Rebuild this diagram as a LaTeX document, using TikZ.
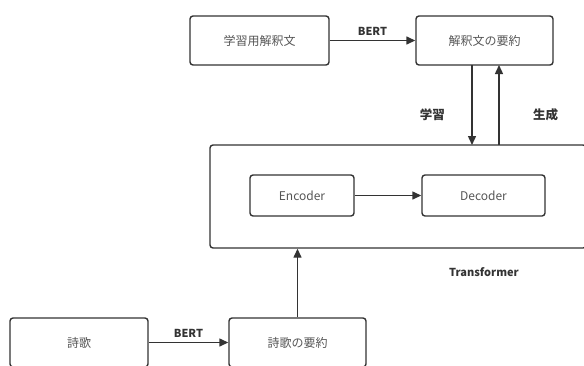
\documentclass[tikz,border=0pt]{standalone}
\usepackage{fontspec}
\setmainfont{Noto Sans CJK JP}
\usetikzlibrary{arrows.meta}
\definecolor{ln}{HTML}{333333}
\definecolor{tx}{HTML}{555555}
\tikzset{
  box/.style={draw=ln, line width=1.4pt, rounded corners=3pt, text=tx, font=\fontsize{12}{14}\selectfont},
  arr/.style={draw=ln, line width=1.4pt, -{Triangle[length=9pt,width=8pt]}},
  lbl/.style={text=ln, font=\fontsize{11}{13}\selectfont\bfseries},
  jlbl/.style={text=ln, font=\fontsize{12.5}{14}\selectfont\bfseries},
}
\begin{document}
\begin{tikzpicture}[x=1pt,y=-1pt]
\useasboundingbox (0,0) rectangle (584,365);
\clip (0,0) rectangle (584,365);
\node[box, minimum width=139pt, minimum height=49pt] (learn) at (259.5,40.5) {学習用解釈文};
\node[box, minimum width=137pt, minimum height=49pt] (sumi) at (484.5,40.5) {解釈文の要約};
\node[draw=ln, line width=1.4pt, rounded corners=3pt, minimum width=376pt, minimum height=103pt] (tr) at (398,196.5) {};
\node[box, minimum width=104pt, minimum height=41pt] (enc) at (302,195.5) {Encoder};
\node[box, minimum width=123pt, minimum height=41pt] (dec) at (483.5,195.5) {Decoder};
\node[box, minimum width=138pt, minimum height=49pt] (poem) at (79,342.5) {詩歌};
\node[box, minimum width=137pt, minimum height=49pt] (psum) at (297.5,342.5) {詩歌の要約};
\node[lbl] (trl) at (484,272) {Transformer};
\draw[arr] (learn) -- node[lbl, above=1pt] (b1) {BERT} (sumi);
\draw[arr] (enc) -- (dec);
\draw[arr] (poem) -- node[lbl, above=1pt] (b2) {BERT} (psum);
\coordinate (d1) at (472,65);
\coordinate (d2) at (472,145);
\coordinate (u1) at (499,145);
\coordinate (u2) at (499,65);
\draw[arr] (d1) -- node[jlbl, pos=0.625, left=23pt] (l1) {学習} (d2);
\draw[arr] (u1) -- node[jlbl, pos=0.375, right=30pt] (l2) {生成} (u2);
\draw[arr] (psum.north) -- (psum.north |- tr.south);
\end{tikzpicture}
\end{document}
